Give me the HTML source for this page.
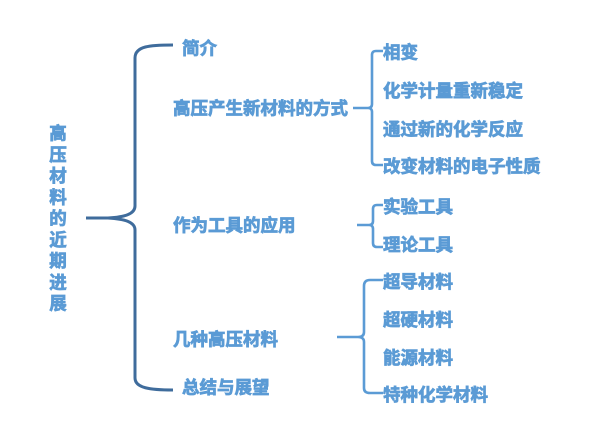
<!DOCTYPE html>
<html><head><meta charset="utf-8"><style>
html,body{margin:0;padding:0;background:#fff;}
svg{display:block;}
text{font-family:"Liberation Sans","Noto Sans CJK SC",sans-serif;font-weight:bold;fill:#5b9bd5;stroke:#5b9bd5;stroke-width:0.75px;font-size:17.5px;}
</style></head><body>
<svg width="600" height="428" viewBox="0 0 600 428" xmlns="http://www.w3.org/2000/svg">
<!-- big brace -->
<path d="M173,45 C150,45 135,46 135,58 L135,206 C135,214 125,217 108,218 L86,218 M108,218 C125,219 135,222 135,230 L135,378 C135,388 150,390 173,390" fill="none" stroke="#3f6c9c" stroke-width="3"/>
<!-- vertical title -->
<g text-anchor="middle">
<text x="58" y="139.5" font-size="17">高</text>
<text x="58" y="160.75" font-size="17">压</text>
<text x="58" y="182" font-size="17">材</text>
<text x="58" y="203.25" font-size="17">料</text>
<text x="58" y="224.5" font-size="17">的</text>
<text x="58" y="245.75" font-size="17">近</text>
<text x="58" y="267" font-size="17">期</text>
<text x="58" y="288.25" font-size="17">进</text>
<text x="58" y="309.5" font-size="17">展</text>
</g>
<!-- level 1 -->
<text x="182" y="54.5">简介</text>
<text x="173" y="114.5">高压产生新材料的方式</text>
<text x="173" y="231.5">作为工具的应用</text>
<text x="173" y="345.5">几种高压材料</text>
<text x="182" y="393.5">总结与展望</text>
<!-- bracket 1 -->
<path d="M383,51 L376,51 Q372,51 372,55 L372,104 Q372,108 368,108 L353,108 M368,108 Q372,108 372,112 L372,161 Q372,165 376,165 L383,165" fill="none" stroke="#5b9bd5" stroke-width="2.6"/>
<text x="383" y="58.5">相变</text>
<text x="383" y="97">化学计量重新稳定</text>
<text x="383" y="135.5">通过新的化学反应</text>
<text x="383" y="172.5">改变材料的电子性质</text>
<!-- bracket 2 -->
<path d="M383,205 L377,205 Q373,205 373,209 L373,221 Q373,225 369,225 L357,225 M369,225 Q373,225 373,229 L373,243 Q373,247 377,247 L383,247" fill="none" stroke="#5b9bd5" stroke-width="2.6"/>
<text x="383" y="213">实验工具</text>
<text x="383" y="251">理论工具</text>
<!-- bracket 3 -->
<path d="M383,280 L370,280 Q364,280 364,286 L364,332 Q364,337 358,337 L337,337 M358,337 Q364,337 364,342 L364,388 Q364,393 370,393 L383,393" fill="none" stroke="#5b9bd5" stroke-width="2.6"/>
<text x="383" y="288">超导材料</text>
<text x="383" y="326">超硬材料</text>
<text x="383" y="364">能源材料</text>
<text x="383" y="401">特种化学材料</text>
</svg>
</body></html>
